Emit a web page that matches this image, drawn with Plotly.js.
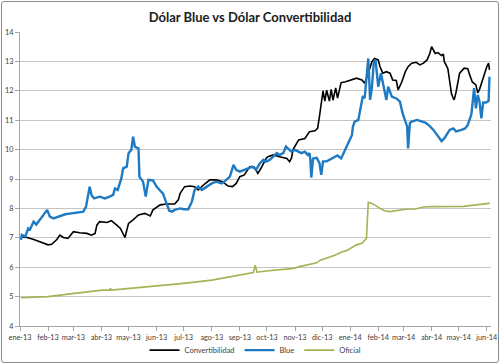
<!DOCTYPE html>
<html>
<head>
<meta charset="utf-8">
<script src="https://cdn.plot.ly/plotly-3.0.1.min.js"></script>
<style>
html,body{margin:0;padding:0;background:#fff;}
#wrap{position:relative;width:500px;height:364px;}
#chart{width:500px;height:364px;}
#frame{position:absolute;left:1px;top:1px;width:496px;height:360px;border:1px solid #8c8c8c;border-radius:3px;pointer-events:none;}
</style>
</head>
<body>
<div id="wrap"><div id="chart"></div><div id="frame"></div></div>
<script>
// ---- data ----
const tickDates = ['2013-01-01','2013-02-01','2013-03-01','2013-04-01','2013-05-01','2013-06-01','2013-07-01','2013-08-01','2013-09-01','2013-10-01','2013-11-01','2013-12-01','2014-01-01','2014-02-01','2014-03-01','2014-04-01','2014-05-01','2014-06-01'];
const tickLabels = ['ene-13','feb-13','mar-13','abr-13','may-13','jun-13','jul-13','ago-13','sep-13','oct-13','nov-13','dic-13','ene-14','feb-14','mar-14','abr-14','may-14','jun-14'];

const convDates = ['2013-01-02','2013-01-10','2013-01-17','2013-01-25','2013-02-01','2013-02-05','2013-02-11','2013-02-14','2013-02-18','2013-02-23','2013-03-01','2013-03-08','2013-03-16','2013-03-21','2013-03-25','2013-03-27','2013-03-30','2013-04-07','2013-04-12','2013-04-18','2013-04-22','2013-04-27','2013-05-01','2013-05-06','2013-05-12','2013-05-19','2013-05-25','2013-05-28','2013-06-05','2013-06-12','2013-06-21','2013-06-25','2013-06-27','2013-07-02','2013-07-08','2013-07-13','2013-07-17','2013-07-24','2013-07-30','2013-08-06','2013-08-13','2013-08-19','2013-08-24','2013-08-28','2013-09-01','2013-09-06','2013-09-12','2013-09-17','2013-09-21','2013-09-25','2013-09-30','2013-10-02','2013-10-08','2013-10-15','2013-10-23','2013-10-26','2013-10-28','2013-10-30','2013-11-05','2013-11-12','2013-11-17','2013-11-23','2013-11-26','2013-11-28','2013-11-30','2013-12-02','2013-12-04','2013-12-06','2013-12-09','2013-12-11','2013-12-13','2013-12-16','2013-12-18','2013-12-22','2013-12-27','2014-01-03','2014-01-08','2014-01-14','2014-01-17','2014-01-21','2014-01-25','2014-01-28','2014-02-01','2014-02-03','2014-02-06','2014-02-10','2014-02-14','2014-02-17','2014-02-21','2014-02-23','2014-02-27','2014-03-03','2014-03-06','2014-03-10','2014-03-15','2014-03-19','2014-03-23','2014-03-27','2014-03-30','2014-04-01','2014-04-03','2014-04-05','2014-04-08','2014-04-12','2014-04-14','2014-04-15','2014-04-19','2014-04-21','2014-04-23','2014-04-25','2014-04-26','2014-04-28','2014-05-02','2014-05-07','2014-05-11','2014-05-13','2014-05-16','2014-05-20','2014-05-22','2014-05-24','2014-05-27','2014-06-01','2014-06-03','2014-06-04'];
const convVals = [7.04,7.00,6.93,6.84,6.76,6.78,6.95,7.09,7.01,6.98,7.21,7.17,7.15,7.09,7.15,7.43,7.55,7.52,7.58,7.43,7.32,7.01,7.49,7.61,7.78,7.83,7.74,7.95,8.12,8.15,8.15,8.29,8.51,8.74,8.76,8.74,8.63,8.83,8.97,8.97,8.91,8.76,8.74,8.85,9.08,9.14,9.42,9.40,9.19,9.40,9.70,9.76,9.82,9.76,9.70,9.59,9.70,10.01,10.33,10.38,10.61,10.64,10.72,11.12,11.57,12.00,11.65,12.02,11.65,12.05,11.68,12.10,11.75,12.28,12.31,12.37,12.43,12.37,12.26,12.60,12.99,13.10,13.05,12.82,12.60,12.65,12.60,12.37,12.35,12.03,12.30,12.65,12.82,12.94,12.97,12.88,12.94,13.05,13.27,13.50,13.40,13.27,13.30,13.20,13.25,13.00,12.75,12.30,11.90,11.74,11.69,11.95,12.60,12.77,12.75,12.55,12.30,12.20,11.93,12.05,12.37,12.82,12.94,12.71];

const blueDates = ['2013-01-02','2013-01-03','2013-01-07','2013-01-10','2013-01-12','2013-01-16','2013-01-19','2013-01-23','2013-01-27','2013-01-31','2013-02-03','2013-02-07','2013-02-12','2013-02-20','2013-02-27','2013-03-06','2013-03-12','2013-03-15','2013-03-17','2013-03-19','2013-03-21','2013-03-24','2013-03-30','2013-04-05','2013-04-10','2013-04-14','2013-04-16','2013-04-19','2013-04-23','2013-04-25','2013-04-29','2013-05-01','2013-05-04','2013-05-06','2013-05-08','2013-05-12','2013-05-13','2013-05-17','2013-05-20','2013-05-23','2013-05-28','2013-06-01','2013-06-05','2013-06-08','2013-06-12','2013-06-15','2013-06-18','2013-06-21','2013-06-27','2013-07-01','2013-07-06','2013-07-10','2013-07-13','2013-07-17','2013-07-21','2013-07-26','2013-08-01','2013-08-06','2013-08-12','2013-08-17','2013-08-21','2013-08-25','2013-08-28','2013-09-01','2013-09-06','2013-09-12','2013-09-15','2013-09-19','2013-09-23','2013-09-27','2013-09-30','2013-10-04','2013-10-08','2013-10-12','2013-10-15','2013-10-19','2013-10-22','2013-10-24','2013-10-28','2013-11-01','2013-11-05','2013-11-08','2013-11-12','2013-11-15','2013-11-17','2013-11-18','2013-11-19','2013-11-21','2013-11-25','2013-11-28','2013-11-30','2013-12-02','2013-12-06','2013-12-09','2013-12-15','2013-12-18','2013-12-22','2013-12-26','2013-12-29','2014-01-03','2014-01-04','2014-01-06','2014-01-10','2014-01-12','2014-01-13','2014-01-15','2014-01-17','2014-01-19','2014-01-21','2014-01-22','2014-01-23','2014-01-25','2014-01-27','2014-01-29','2014-02-01','2014-02-04','2014-02-07','2014-02-10','2014-02-12','2014-02-16','2014-02-21','2014-02-25','2014-02-28','2014-03-05','2014-03-06','2014-03-08','2014-03-10','2014-03-16','2014-03-19','2014-03-25','2014-03-30','2014-04-03','2014-04-07','2014-04-10','2014-04-12','2014-04-15','2014-04-21','2014-04-25','2014-04-28','2014-05-04','2014-05-08','2014-05-11','2014-05-15','2014-05-18','2014-05-20','2014-05-22','2014-05-24','2014-05-26','2014-05-28','2014-05-31','2014-06-03','2014-06-04'];
const blueVals = [6.93,7.10,7.05,7.32,7.28,7.55,7.45,7.60,7.78,7.95,7.72,7.66,7.72,7.80,7.83,7.85,7.89,8.06,8.40,8.74,8.46,8.34,8.40,8.34,8.40,8.46,8.68,8.63,9.02,9.36,9.42,9.88,9.99,10.44,10.10,10.04,9.08,8.91,8.40,8.97,8.95,8.74,8.60,8.51,8.17,7.92,7.89,7.95,8.00,7.97,7.97,8.23,8.63,8.74,8.63,8.74,8.85,8.91,8.85,8.97,9.08,9.48,9.31,9.25,9.31,9.36,9.42,9.31,9.53,9.65,9.59,9.65,9.76,9.88,9.82,9.88,10.10,10.04,9.93,9.99,9.93,9.88,9.93,9.82,9.88,9.65,9.05,9.70,9.72,9.55,9.14,9.60,9.60,9.65,9.76,9.80,9.70,9.95,10.16,10.50,10.78,10.95,11.01,11.35,11.50,11.82,11.75,12.48,13.10,12.43,11.69,12.10,12.94,13.05,12.14,12.60,12.20,11.69,12.14,11.80,11.74,11.63,11.23,10.78,10.04,10.90,10.95,11.01,10.98,10.92,10.80,10.67,10.50,10.38,10.29,10.38,10.67,10.72,10.62,10.67,10.72,10.84,11.20,12.09,11.40,11.86,11.63,11.06,11.60,11.60,11.65,12.48];

const oficialDates = ['2013-01-02','2013-02-01','2013-03-02','2013-04-02','2013-04-10','2013-04-11','2013-04-12','2013-05-01','2013-06-01','2013-07-01','2013-08-01','2013-08-31','2013-09-16','2013-09-18','2013-09-20','2013-09-30','2013-10-20','2013-10-31','2013-11-06','2013-11-14','2013-11-25','2013-11-29','2013-12-09','2013-12-15','2013-12-24','2013-12-29','2014-01-08','2014-01-14','2014-01-19','2014-01-21','2014-01-23','2014-01-28','2014-02-03','2014-02-08','2014-02-14','2014-02-21','2014-03-03','2014-03-14','2014-03-23','2014-04-01','2014-04-19','2014-05-06','2014-05-20','2014-06-03','2014-06-04'];
const oficialVals = [4.96,5.00,5.11,5.22,5.22,5.28,5.22,5.27,5.36,5.45,5.56,5.73,5.82,6.07,5.83,5.87,5.93,5.96,6.02,6.07,6.15,6.24,6.34,6.41,6.53,6.58,6.76,6.81,6.98,8.20,8.19,8.12,8.00,7.92,7.89,7.92,7.97,7.98,8.05,8.06,8.07,8.07,8.12,8.17,8.20];

const FONT = 'Lato, "Open Sans", sans-serif';

const traces = [
  {x: convDates, y: convVals, name: 'Convertibilidad', type: 'scatter', mode: 'lines',
   line: {color: '#000000', width: 1.6}},
  {x: blueDates, y: blueVals, name: 'Blue', type: 'scatter', mode: 'lines',
   line: {color: '#1f7ac4', width: 2.4}},
  {x: oficialDates, y: oficialVals, name: 'Oficial', type: 'scatter', mode: 'lines',
   line: {color: '#a3b356', width: 1.6}}
];

const layout = {
  width: 500, height: 364,
  margin: {l: 20, r: 9, t: 32, b: 38, autoexpand: false},
  paper_bgcolor: '#ffffff', plot_bgcolor: '#ffffff',
  font: {family: FONT, size: 8, color: '#404040'},
  title: {text: '<b>Dólar Blue vs Dólar Convertibilidad</b>', x: 0.5, xanchor: 'center', y: 0.953, yanchor: 'middle',
          font: {family: FONT, size: 13, color: '#202020'}},
  xaxis: {type: 'date', range: ['2013-01-01', '2014-06-05 16:00'], automargin: false,
          tickmode: 'array', tickvals: tickDates, ticktext: tickLabels, tickangle: 0,
          showgrid: false, showline: true, linecolor: '#a6a6a6', linewidth: 1,
          ticks: 'outside', ticklen: 4, tickcolor: '#a6a6a6',
          tickfont: {family: FONT, size: 7.3, color: '#404040'}, zeroline: false, fixedrange: true},
  yaxis: {range: [4, 14], dtick: 1, tick0: 4, automargin: false,
          showgrid: true, gridcolor: '#c4c4c4', gridwidth: 1,
          showline: true, linecolor: '#a6a6a6', linewidth: 1,
          ticks: 'outside', ticklen: 4, tickcolor: '#a6a6a6',
          tickfont: {family: FONT, size: 7.3, color: '#404040'}, zeroline: false, fixedrange: true},
  showlegend: true,
  legend: {orientation: 'h', x: 0.5, xanchor: 'center', y: -0.082, yanchor: 'middle',
           font: {family: FONT, size: 7.5, color: '#404040'}, itemwidth: 30, tracegroupgap: 0,
           bgcolor: 'rgba(0,0,0,0)'}
};

Plotly.newPlot('chart', traces, layout, {displayModeBar: false, staticPlot: true});
</script>
</body>
</html>
